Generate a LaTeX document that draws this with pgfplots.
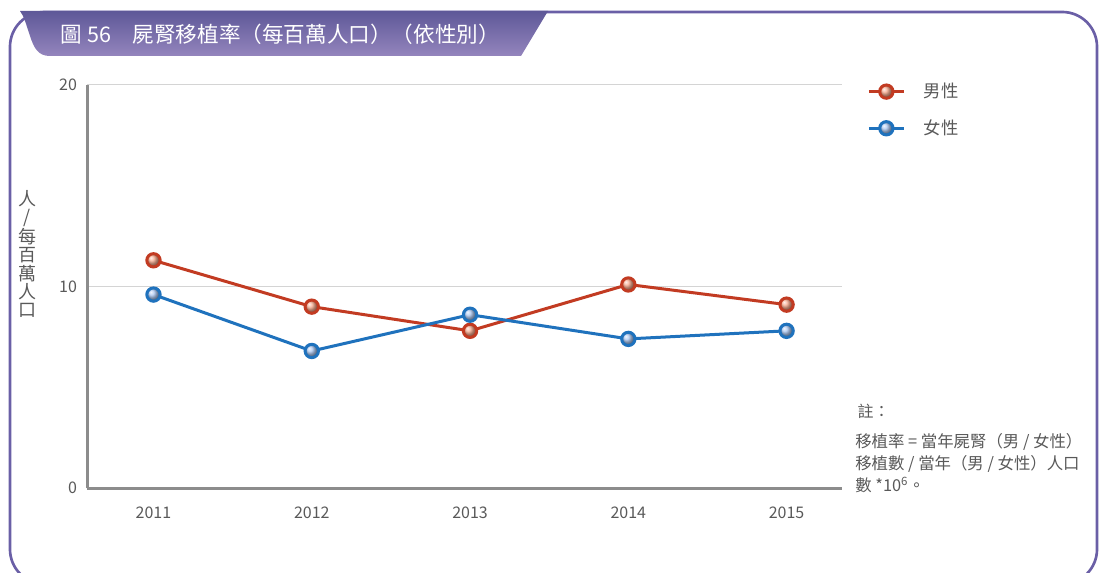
\documentclass[border=0pt]{standalone}
\usepackage{fontspec}
\setmainfont{Noto Sans CJK TC}
\usepackage{pgfplots}
\pgfplotsset{compat=1.18}
\definecolor{framec}{HTML}{6A5FA6}
\definecolor{tabtop}{HTML}{5E5898}
\definecolor{tabmid}{HTML}{7B6BAA}
\definecolor{tabbot}{HTML}{9485BD}
\definecolor{male}{HTML}{C23B22}
\definecolor{maleball}{HTML}{F6AA8E}
\definecolor{female}{HTML}{1F72BD}
\definecolor{femaleball}{HTML}{AAC6F0}
\definecolor{txt}{HTML}{595959}
\definecolor{axisgray}{HTML}{8C8C8C}
\definecolor{gridgray}{HTML}{D4D4D4}

\begin{document}
\begin{tikzpicture}[x=0.75pt,y=0.75pt]
\useasboundingbox (0,0) rectangle (1099,572);
% frame
\begin{scope}
  \clip (0,0) rectangle (1099,572);
  \draw[framec, line width=2pt, rounded corners=26pt] (10,-12) rectangle (1097,560);
\end{scope}
% title tab
\shade[top color=tabtop, middle color=tabmid, bottom color=tabbot]
  (548,561) -- (521,516) -- (50,516)
  .. controls (38,516) and (34,524) .. (30,536)
  .. controls (26,548) and (24,556) .. (20,561) -- cycle;
\node[anchor=west, text=white, font=\fontsize{16.2}{19}\selectfont] at (56,538)
  {圖 56\quad 屍腎移植率（每百萬人口）（依性別）};

\begin{axis}[
  at={(65.25pt,63pt)}, anchor=south west,
  scale only axis, width=566.25pt, height=302.25pt,
  xmin=-0.42, xmax=4.35, ymin=0, ymax=20,
  xtick={0,1,2,3,4}, xticklabels={2011,2012,2013,2014,2015},
  ytick={0,10,20},
  ymajorgrids, grid style={gridgray, line width=0.75pt},
  axis x line*=bottom, axis y line*=left,
  axis line style={axisgray, line width=2.25pt, -},
  major tick length=0pt,
  /pgf/number format/assume math mode=true,
  tick label style={font=\fontsize{12}{14}\selectfont, text=txt},
  xticklabel style={yshift=-11pt},
  yticklabel style={xshift=-4pt},
  clip=false,
  legend style={at={(1.028,1.018)}, anchor=north west, draw=none, fill=none,
    font=\fontsize{13}{15}\selectfont, text=txt, row sep=11pt,
    nodes={inner xsep=14pt}},
  legend cell align=left,
  legend image code/.code={
    \draw[mark repeat=2, mark phase=2] plot coordinates {(0cm,0cm) (0.46cm,0cm) (0.92cm,0cm)};
  },
]
\addplot[male, line width=2.25pt, mark=ball, mark size=5pt, mark options={ball color=maleball}]
  coordinates {(0,11.3) (1,9.0) (2,7.8) (3,10.1) (4,9.1)};
\addlegendentry{男性}
\addplot[female, line width=2.25pt, mark=ball, mark size=5pt, mark options={ball color=femaleball}]
  coordinates {(0,9.6) (1,6.8) (2,8.6) (3,7.4) (4,7.8)};
\addlegendentry{女性}
\end{axis}

% y label, stacked
\node[text=txt, align=center, font=\fontsize{13.5}{13.8}\selectfont] at (27,318)
  {人\\/\\每\\百\\萬\\人\\口};

% note
\node[anchor=west, text=txt, font=\fontsize{12}{14}\selectfont] at (853,161) {註：};
\node[anchor=north west, text=txt, align=left, font=\fontsize{12.3}{16.5}\selectfont, inner sep=0pt]
  at (855,139)
  {移植率 = 當年屍腎（男 / 女性）\\移植數 / 當年（男 / 女性）人口\\數 *10\textsuperscript{6}。};
\end{tikzpicture}
\end{document}
